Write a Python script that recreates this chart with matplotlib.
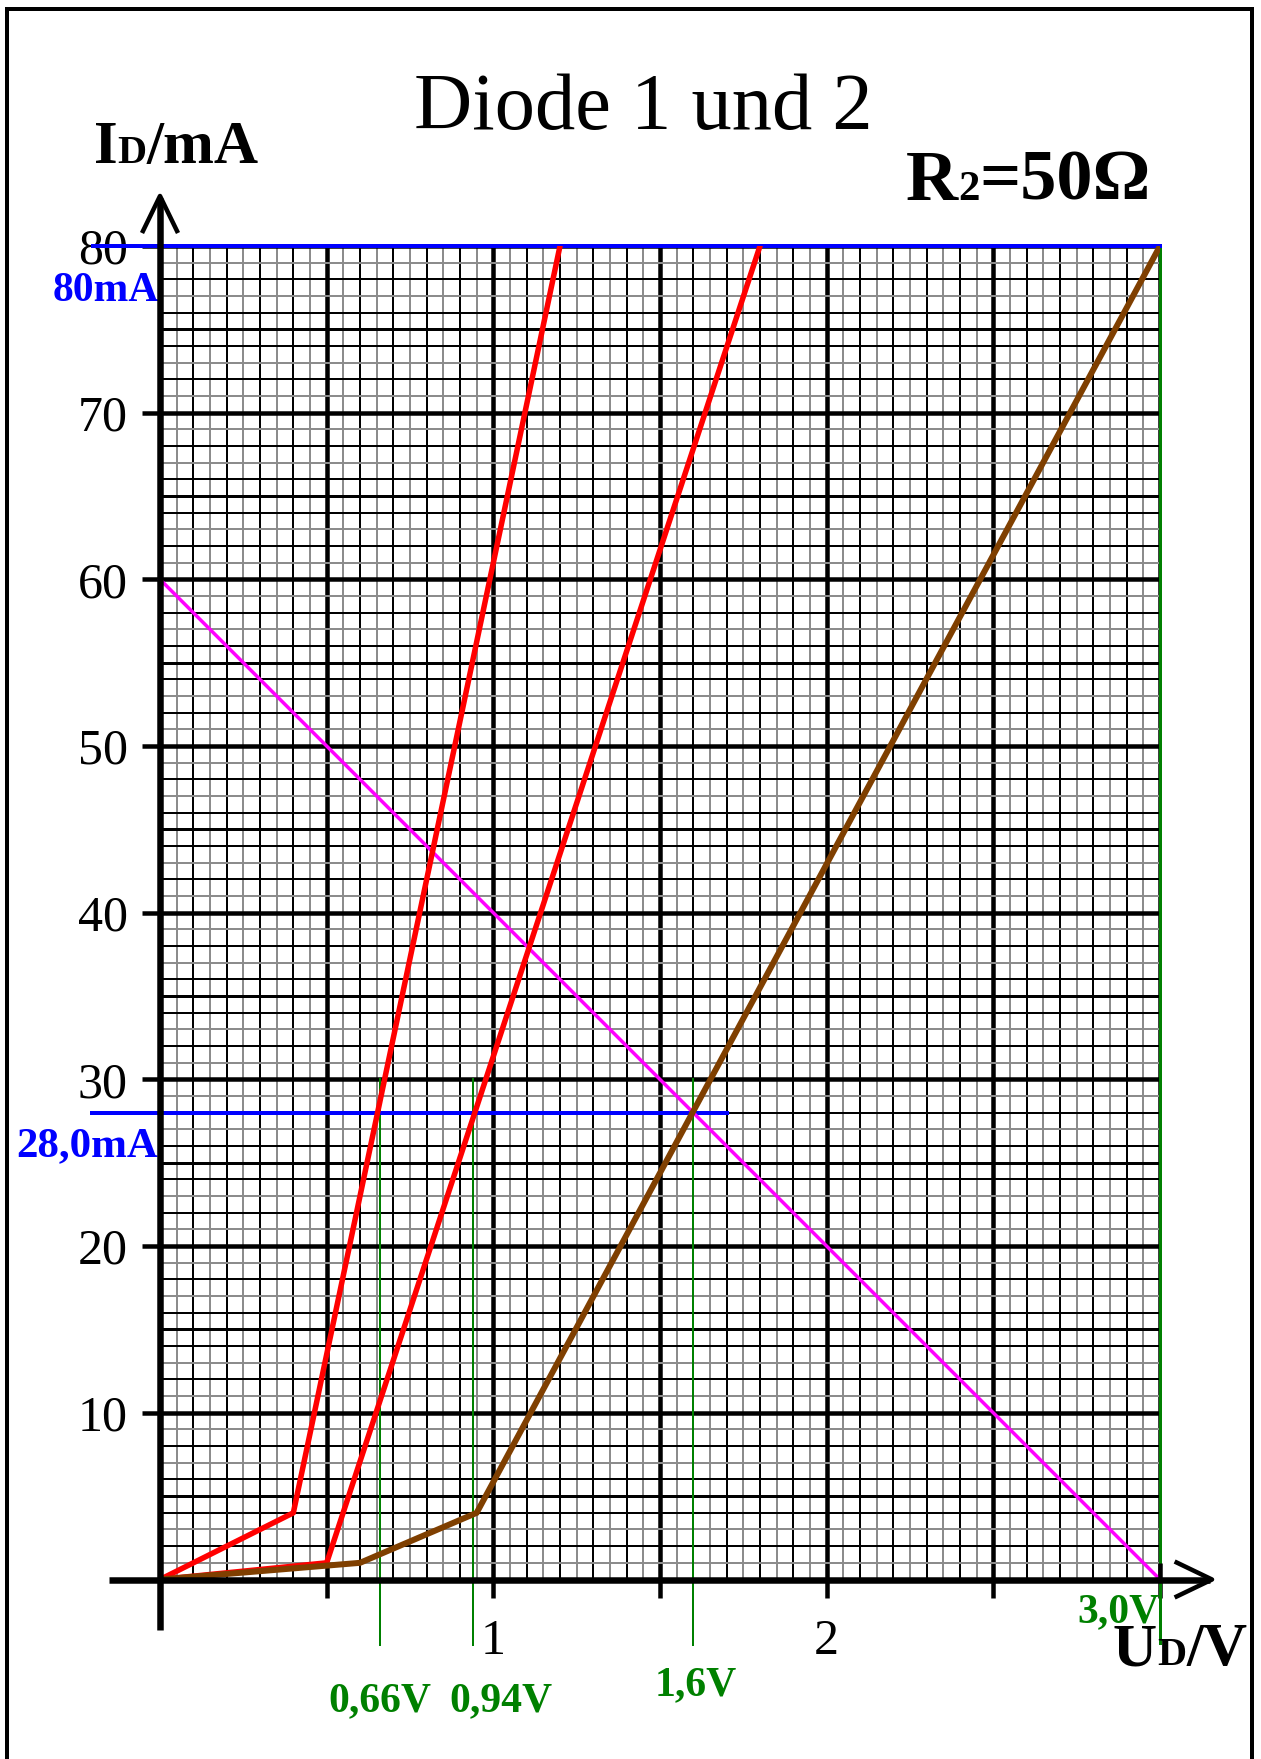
"""
Diode characteristics with the load line for R2 = 50 Ohm.
"""

import matplotlib
matplotlib.use('Agg')
import matplotlib.pyplot as plt
import numpy as np
from matplotlib.lines import Line2D

# piecewise linear characteristics, U in V, I in mA
diode1_u = [0.0, 0.4, 1.2]
diode1_i = [0, 4, 80]
diode2_u = [0.0, 0.5, 1.8]
diode2_i = [0, 1, 80]
diode3_u = [0.0, 0.6, 0.95, 3.0]
diode3_i = [0, 1, 4, 80]

# load line: U0 = 3 V, R2 = 50 Ohm
load_u = [0.0, 3.0]
load_i = [60, 0]

op_current = 28.0
op_voltages = [0.66, 0.94, 1.6]
op_labels = ['0,66V', '0,94V', '1,6V']
supply_voltage = 3.0
max_current = 80

y_ticks = [10, 20, 30, 40, 50, 60, 70, 80]
x_ticks = [0.5, 1.0, 1.5, 2.0, 2.5, 3.0]
x_ticklabels = ['', '1', '', '2', '', '']

W, H = 1261, 1759
PT = 0.72  # points per pixel at dpi 100

RED = '#ff0000'
BROWN = '#7f3f00'
MAGENTA = '#ff00ff'
BLUE = '#0000ff'
GREEN = '#008000'

plt.rcParams['font.family'] = ['Liberation Serif', 'DejaVu Serif']

fig = plt.figure(figsize=(W / 100, H / 100), dpi=100)
ax = fig.add_axes([160 / W, 1 - 1579.5 / H, 1000 / W, 1333.5 / H])
ax.set_xlim(0, 3)
ax.set_ylim(0, 80)
for s in ax.spines.values():
    s.set_visible(False)

# millimetre-paper grid
xs = np.round(np.arange(0, 3.001, 0.05), 2)
for k, x in enumerate(xs):
    if k % 10 == 0:
        c, lw = 'black', 4.5
    elif k % 2 == 0:
        c, lw = 'black', 2.0
    else:
        c, lw = '#8c8c8c', 2.0
    ax.plot([x, x], [0, 80], color=c, lw=lw * PT, zorder=1, solid_capstyle='butt')
for k in range(0, 81):
    if k % 10 == 0:
        c, lw = 'black', 4.5
    elif k % 5 == 0:
        c, lw = 'black', 3.0
    elif k % 2 == 0:
        c, lw = 'black', 2.0
    else:
        c, lw = '#8c8c8c', 2.0
    ax.plot([0, 3], [k, k], color=c, lw=lw * PT, zorder=1, solid_capstyle='butt')

# read-off lines
for u in op_voltages:
    ax.plot([u, u], [30, -3.9], color=GREEN, lw=2 * PT, zorder=2, clip_on=False)
ax.plot([supply_voltage, supply_voltage], [max_current, -3.8], color=GREEN, lw=3 * PT,
        zorder=2, clip_on=False)
ax.plot([-0.204, 1.70], [op_current, op_current], color=BLUE, lw=4 * PT, zorder=3,
        clip_on=False)
ax.plot([-0.20, 3.0], [max_current, max_current], color=BLUE, lw=4 * PT, zorder=3,
        clip_on=False)

ax.plot(load_u, load_i, color=MAGENTA, lw=3.5 * PT, zorder=3, clip_on=False)
ax.plot(diode1_u, diode1_i, color=RED, lw=5.5 * PT, zorder=4)
ax.plot(diode2_u, diode2_i, color=RED, lw=5.5 * PT, zorder=4)
ax.plot(diode3_u, diode3_i, color=BROWN, lw=6 * PT, zorder=4, solid_joinstyle='miter')

# axes with open arrow heads
ax.plot([0, 0], [-3.03, 82.9], color='black', lw=6.5 * PT, zorder=5, clip_on=False,
        solid_capstyle='butt')
ax.plot([-0.153, 3.15], [0, 0], color='black', lw=6.5 * PT, zorder=5, clip_on=False,
        solid_capstyle='butt')
ax.plot([-0.051, 0, 0.051], [80.9, 83.0, 80.9], color='black', lw=4.5 * PT, zorder=5,
        clip_on=False)
ax.plot([3.05, 3.156, 3.05], [1.02, 0, -1.02], color='black', lw=4.5 * PT, zorder=5,
        clip_on=False)
ax.plot([3.0, 3.0], [0, 1.0], color='black', lw=4.5 * PT, zorder=5, clip_on=False,
        solid_capstyle='butt')

ax.set_yticks(y_ticks)
ax.set_xticks(x_ticks)
ax.set_xticklabels(x_ticklabels)
ax.tick_params(axis='y', direction='out', length=18 * PT, width=4.5 * PT, pad=14 * PT,
               labelsize=36)
ax.tick_params(axis='x', direction='out', length=17.5 * PT, width=4.5 * PT, pad=22 * PT,
               labelsize=36)

# value labels
ax.annotate('80mA', xy=(0, max_current), xytext=(-1, -26 * PT), textcoords='offset points',
            ha='right', va='top', color=BLUE, fontsize=30, fontweight='bold',
            annotation_clip=False)
ax.annotate('28,0mA', xy=(0, op_current), xytext=(-1, -14 * PT), textcoords='offset points',
            ha='right', va='top', color=BLUE, fontsize=31, fontweight='bold',
            annotation_clip=False)
label_shift = [0, 28, 2]
label_drop = [103, 103, 87]
for u, txt, dx, dy in zip(op_voltages, op_labels, label_shift, label_drop):
    ax.annotate(txt, xy=(u, 0), xytext=(dx * PT, -dy * PT), textcoords='offset points',
                ha='center', va='top', color=GREEN, fontsize=30, fontweight='bold',
                annotation_clip=False)
ax.annotate('3,0V', xy=(supply_voltage, 0), xytext=(0, -14 * PT), textcoords='offset points',
            ha='right', va='top', color=GREEN, fontsize=30, fontweight='bold',
            annotation_clip=False)

fig.text(643 / W, 1 - 129 / H, 'Diode 1 und 2', ha='center', va='baseline', fontsize=58)


def draw_runs(x, y, runs):
    # text pieces side by side on one baseline, x/y in pixels from the top left
    renderer = fig.canvas.get_renderer()
    for s, size in runs:
        t = fig.text(x / W, 1 - y / H, s, fontsize=size, fontweight='bold',
                     ha='left', va='baseline')
        x += t.get_window_extent(renderer).width


draw_runs(94, 163, [('I', 44), ('D', 29), ('/mA', 44)])
draw_runs(906, 200, [('R', 52), ('2', 31), ('=50\u03a9', 52)])
draw_runs(1113, 1665, [('U', 44), ('D', 29), ('/V', 44)])

# frame around the sheet (open at the bottom)
for xy in [((7, 7), (1760, 8.5)), ((7, 1252), (8.5, 8.5)), ((1252, 1252), (8.5, 1760))]:
    (x0, x1), (y0, y1) = xy
    fig.add_artist(Line2D([x0 / W, x1 / W], [1 - y0 / H, 1 - y1 / H], color='black',
                          lw=4 * PT, transform=fig.transFigure))

fig.savefig('out.png', dpi=100)
